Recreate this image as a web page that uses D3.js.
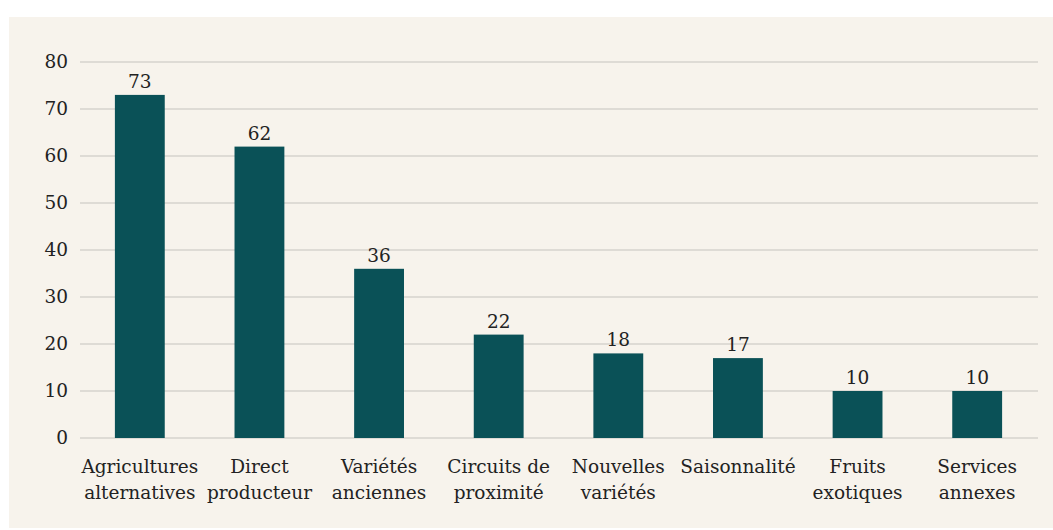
<!DOCTYPE html>
<html>
<head>
<meta charset="utf-8">
<script src="https://cdn.jsdelivr.net/npm/d3@7"></script>
<style>
  html, body { margin: 0; padding: 0; background: #ffffff; }
  svg { display: block; }
</style>
</head>
<body>
<div id="chart"></div>
<script>
// Category labels (two lines each) and counts
const categories = [
  ["Agricultures", "alternatives"],
  ["Direct", "producteur"],
  ["Variétés", "anciennes"],
  ["Circuits de", "proximité"],
  ["Nouvelles", "variétés"],
  ["Saisonnalité"],
  ["Fruits", "exotiques"],
  ["Services", "annexes"]
];
const values = [73, 62, 36, 22, 18, 17, 10, 10];
const yTicks = [0, 10, 20, 30, 40, 50, 60, 70, 80];

const W = 1053, H = 530;
const font = "'DejaVu Serif', serif";

const svg = d3.select("#chart").append("svg")
  .attr("width", W).attr("height", H);

// beige panel
svg.append("rect")
  .attr("x", 9).attr("y", 17)
  .attr("width", W - 9).attr("height", 511)
  .attr("fill", "#f7f3ec");

const keys = categories.map((c, i) => i);

const x = d3.scaleBand()
  .domain(keys)
  .range([80, 1037])
  .paddingInner(0.5833)
  .paddingOuter(0.2917);

const y = d3.scaleLinear()
  .domain([0, 80])
  .range([438, 62]);

// grid lines
svg.append("g")
  .selectAll("line")
  .data(yTicks)
  .join("line")
  .attr("x1", 80).attr("x2", 1038)
  .attr("y1", d => y(d)).attr("y2", d => y(d))
  .attr("stroke", "#dedbd5")
  .attr("stroke-width", 2);

// y axis labels
const yAxis = d3.axisLeft(y).tickValues(yTicks).tickSize(0).tickPadding(12);
const gy = svg.append("g").attr("transform", "translate(80,0)").call(yAxis);
gy.select(".domain").remove();
gy.selectAll("text")
  .attr("font-family", font)
  .attr("font-size", 18.5)
  .attr("fill", "#222");

// bars
svg.append("g")
  .selectAll("rect")
  .data(values)
  .join("rect")
  .attr("x", (d, i) => x(i))
  .attr("y", d => y(d))
  .attr("width", x.bandwidth())
  .attr("height", d => y(0) - y(d))
  .attr("fill", "#0a5157");

// value labels
svg.append("g")
  .selectAll("text")
  .data(values)
  .join("text")
  .attr("x", (d, i) => x(i) + x.bandwidth() / 2)
  .attr("y", d => y(d) - 7)
  .attr("text-anchor", "middle")
  .attr("font-family", font)
  .attr("font-size", 18.5)
  .attr("fill", "#222")
  .text(d => d);

// category labels
const xl = svg.append("g")
  .selectAll("text")
  .data(categories)
  .join("text")
  .attr("x", (d, i) => x(i) + x.bandwidth() / 2)
  .attr("y", 473)
  .attr("text-anchor", "middle")
  .attr("font-family", font)
  .attr("font-size", 18.5)
  .attr("fill", "#222");
xl.selectAll("tspan")
  .data(d => d)
  .join("tspan")
  .attr("x", function () { return d3.select(this.parentNode).attr("x"); })
  .attr("dy", (d, i) => i === 0 ? 0 : 26)
  .text(d => d);
</script>
</body>
</html>
